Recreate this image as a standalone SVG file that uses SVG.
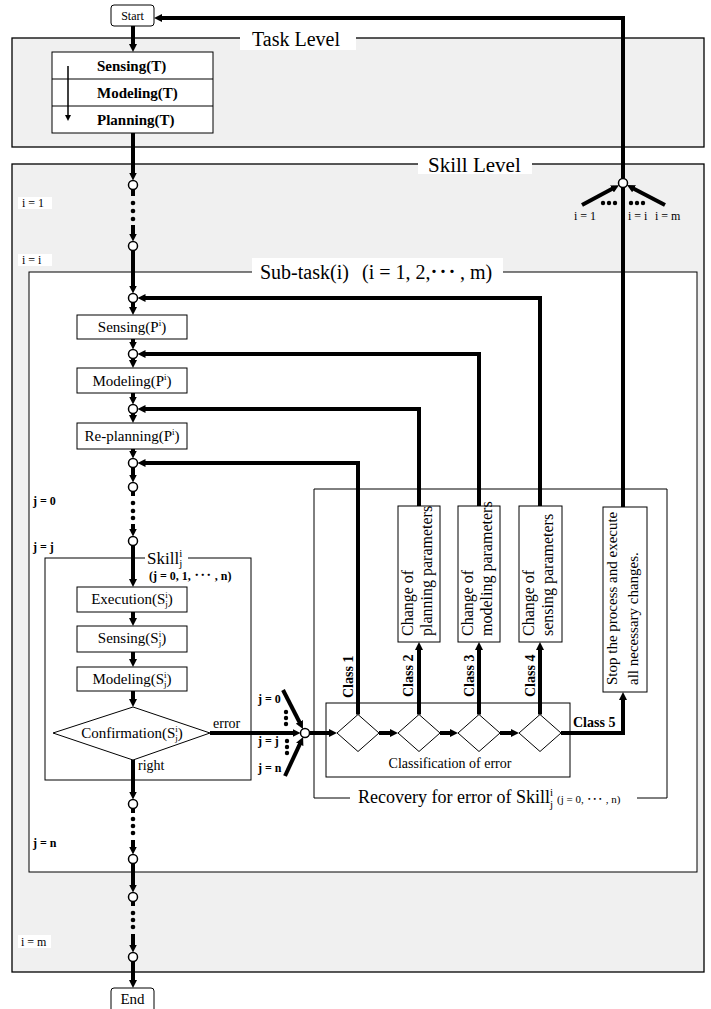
<svg xmlns="http://www.w3.org/2000/svg" width="711" height="1009" viewBox="0 0 711 1009">
<defs>
<marker id="ah" viewBox="0 0 8 8" refX="3" refY="4" markerWidth="8" markerHeight="8" markerUnits="userSpaceOnUse" orient="auto"><path d="M0,0 L8,4 L0,8 z" fill="#000"/></marker>
<marker id="ahs" viewBox="0 0 8 8" refX="4" refY="4" markerWidth="6" markerHeight="7" markerUnits="userSpaceOnUse" orient="auto"><path d="M0,0 L8,4 L0,8 z" fill="#000"/></marker>
</defs>
<style>
text{font-family:"Liberation Serif","Noto Sans CJK JP",serif;fill:#000}
.lvl{fill:#f0f0f0;stroke:#000;stroke-width:1.3}
.box{fill:#fff;stroke:#000;stroke-width:1}
.thin{fill:none;stroke:#000;stroke-width:1}
.flow{fill:none;stroke:#000;stroke-width:4}
.arr{marker-end:url(#ah)}
.node{fill:#fff;stroke:#000;stroke-width:1.5}
.dot{fill:#000}
.bg{fill:#fff}
.t15{font-size:15px}
.b15{font-size:15px;font-weight:bold}
.b14{font-size:14px;font-weight:bold}
.b12{font-size:12px;font-weight:bold}
.t12{font-size:12px}
.t16{font-size:16px}
.c{text-anchor:middle}
</style>

<g id="task-level">
<rect class="lvl" x="12" y="38" width="692" height="109"/>
<rect class="bg" x="240" y="32" width="116" height="18"/>
<text x="252" y="46" style="font-size:20px">Task Level</text>
</g>

<g id="skill-level">
<rect class="lvl" x="12" y="164" width="692" height="808"/>
<rect class="bg" x="418" y="156" width="114" height="18"/>
<text x="428" y="172" style="font-size:21px">Skill Level</text>
<rect class="bg" x="18" y="197" width="34" height="12"/>
<text class="t12" x="22" y="207">i = 1</text>
<rect class="bg" x="18" y="254" width="34" height="12"/>
<text class="t12" x="22" y="264">i = i</text>
<rect class="bg" x="18" y="935" width="33" height="13"/>
<text class="t12" x="21" y="946">i = m</text>
</g>

<g id="sub-task">
<rect class="box" x="29" y="272" width="668" height="600"/>
<rect class="bg" x="252" y="258" width="251" height="26"/>
<text x="260" y="279" style="font-size:20px">Sub-task(i)<tspan x="362">(i = 1, 2,</tspan><tspan x="429">･</tspan><tspan x="438">･</tspan><tspan x="447">･</tspan><tspan x="460">, m)</tspan></text>
<text class="b12" x="33" y="505">j = 0</text>
<text class="b12" x="33" y="551">j = j</text>
<text class="b12" x="33" y="847">j = n</text>
</g>

<g id="start">
<rect class="box" x="111" y="5" width="43" height="21" rx="3" stroke-width="1.3"/>
<text class="c" x="132.5" y="20" style="font-size:12px">Start</text>
</g>

<g id="task-table">
<rect class="box" x="52" y="52" width="161" height="81"/>
<line class="thin" x1="52" y1="79" x2="213" y2="79"/>
<line class="thin" x1="52" y1="106" x2="213" y2="106"/>
<text class="b15" x="97" y="71">Sensing(T)</text>
<text class="b15" x="97" y="98">Modeling(T)</text>
<text class="b15" x="97" y="125">Planning(T)</text>
<line x1="68" y1="66" x2="68" y2="118" stroke="#000" stroke-width="1.5" marker-end="url(#ahs)"/>
</g>

<g id="sensing-p">
<rect class="box" x="77" y="315" width="110" height="24"/>
<text class="t15 c" x="132" y="332">Sensing(P<tspan font-size="9" dy="-6">i</tspan><tspan dy="6">)</tspan></text>
</g>
<g id="modeling-p">
<rect class="box" x="77" y="368" width="110" height="25"/>
<text class="t15 c" x="132" y="386">Modeling(P<tspan font-size="9" dy="-6">i</tspan><tspan dy="6">)</tspan></text>
</g>
<g id="replanning-p">
<rect class="box" x="77" y="423" width="110" height="26"/>
<text class="t15 c" x="132" y="441">Re-planning(P<tspan font-size="9" dy="-6">i</tspan><tspan dy="6">)</tspan></text>
</g>

<g id="skill">
<rect class="box" x="45" y="558" width="206" height="222"/>
<rect class="bg" x="145" y="549" width="43" height="20"/>
<text x="147" y="564" style="font-size:17px">Skill<tspan font-size="11" dy="-7">i</tspan><tspan font-size="11" dx="-3" dy="10">j</tspan></text>
<text class="b12" x="149" y="580">(j = 0, 1, ･･･ , n)</text>
</g>
<g id="execution-s">
<rect class="box" x="77" y="587" width="110" height="25"/>
<text class="t15 c" x="132" y="604">Execution(S<tspan font-size="9" dy="-6">i</tspan><tspan font-size="9" dx="-2.5" dy="9">j</tspan><tspan dy="-3">)</tspan></text>
</g>
<g id="sensing-s">
<rect class="box" x="77" y="626" width="110" height="26"/>
<text class="t15 c" x="132" y="643">Sensing(S<tspan font-size="9" dy="-6">i</tspan><tspan font-size="9" dx="-2.5" dy="9">j</tspan><tspan dy="-3">)</tspan></text>
</g>
<g id="modeling-s">
<rect class="box" x="77" y="667" width="110" height="24"/>
<text class="t15 c" x="132" y="684">Modeling(S<tspan font-size="9" dy="-6">i</tspan><tspan font-size="9" dx="-2.5" dy="9">j</tspan><tspan dy="-3">)</tspan></text>
</g>
<g id="confirmation">
<polygon class="box" points="133,707 210,733 133,760 53,733"/>
<text class="t15 c" x="132" y="738">Confirmation(S<tspan font-size="9" dy="-6">i</tspan><tspan font-size="9" dx="-2.5" dy="9">j</tspan><tspan dy="-3">)</tspan></text>
<text x="213" y="728" style="font-size:14px">error</text>
<text x="138" y="770" style="font-size:14px">right</text>
</g>

<g id="recovery">
<path class="thin" d="M350,798 H314 V489 H667 V798 H637"/>
<text x="358" y="803" style="font-size:18px">Recovery for error of Skill<tspan font-size="11" dy="-7">i</tspan><tspan font-size="11" dx="-3" dy="12">j</tspan><tspan font-size="11" dx="4" dy="-5">(j = 0, ･･･ , n)</tspan></text>
</g>

<g id="change-planning">
<rect class="box" x="398" y="506" width="42" height="136"/>
<text class="t16" transform="translate(413,636) rotate(-90)">Change of</text>
<text class="t16" transform="translate(432,636) rotate(-90)">planning parameters</text>
</g>
<g id="change-modeling">
<rect class="box" x="458" y="506" width="42" height="136"/>
<text class="t16" transform="translate(473,636) rotate(-90)">Change of</text>
<text class="t16" transform="translate(492,636) rotate(-90)">modeling parameters</text>
</g>
<g id="change-sensing">
<rect class="box" x="519" y="506" width="43" height="136"/>
<text class="t16" transform="translate(534,636) rotate(-90)">Change of</text>
<text class="t16" transform="translate(553,636) rotate(-90)">sensing parameters</text>
</g>
<g id="stop">
<rect class="box" x="603" y="507" width="44" height="185"/>
<text transform="translate(617,685) rotate(-90)" style="font-size:15px">Stop the process and execute</text>
<text transform="translate(638,685) rotate(-90)" style="font-size:15px">all necessary changes.</text>
</g>

<g id="classification">
<rect class="box" x="326" y="703" width="244" height="74"/>
<text class="c" x="450" y="768" style="font-size:14px">Classification of error</text>
<polygon class="box" points="358,714.5 379,733 358,751.5 337,733"/>
<polygon class="box" points="419,714.5 440,733 419,751.5 398,733"/>
<polygon class="box" points="479,714.5 500,733 479,751.5 458,733"/>
<polygon class="box" points="540,714.5 561,733 540,751.5 519,733"/>
<text class="b14" transform="translate(353,698) rotate(-90)">Class 1</text>
<text class="b14" transform="translate(413,697) rotate(-90)">Class 2</text>
<text class="b14" transform="translate(474,697) rotate(-90)">Class 3</text>
<text class="b14" transform="translate(535,697) rotate(-90)">Class 4</text>
<text class="b14" x="573" y="727">Class 5</text>
</g>

<g id="end">
<rect class="box" x="111" y="988" width="43" height="26" rx="3" stroke-width="1.3"/>
<text class="c" x="132.5" y="1004" style="font-size:15px">End</text>
</g>

<g id="connectors">
<path class="flow arr" d="M133,26 V47"/>
<path class="flow arr" d="M133,133 V175.5"/>
<path class="flow" d="M133,189.5 V196"/>
<path class="flow arr" d="M133,225 V236.5"/>
<path class="flow arr" d="M133,250.5 V288.5"/>
<path class="flow arr" d="M133,302.5 V310"/>
<path class="flow arr" d="M133,339 V344.5"/>
<path class="flow arr" d="M133,358.5 V363"/>
<path class="flow arr" d="M133,393 V399.5"/>
<path class="flow arr" d="M133,413.5 V418"/>
<path class="flow arr" d="M133,449 V453.5"/>
<path class="flow arr" d="M133,467.5 V477.5"/>
<path class="flow" d="M133,491.5 V496"/>
<path class="flow arr" d="M133,524 V531.5"/>
<path class="flow arr" d="M133,545.5 V582"/>
<path class="flow arr" d="M133,612 V621"/>
<path class="flow arr" d="M133,652 V662"/>
<path class="flow arr" d="M133,691 V702"/>
<path class="flow arr" d="M133,760 V794.5"/>
<path class="flow" d="M133,808.5 V813"/>
<path class="flow arr" d="M133,840 V849.5"/>
<path class="flow arr" d="M133,863.5 V887.5"/>
<path class="flow" d="M133,901.5 V906"/>
<path class="flow arr" d="M133,934 V947.5"/>
<path class="flow arr" d="M133,961.5 V983"/>

<path class="flow arr" d="M540,506 V298 H142.5"/>
<path class="flow arr" d="M479,506 V354 H142.5"/>
<path class="flow arr" d="M419,506 V409 H142.5"/>
<path class="flow arr" d="M358,714.5 V463 H142.5"/>
<path class="flow arr" d="M419,714.5 V647"/>
<path class="flow arr" d="M479,714.5 V647"/>
<path class="flow arr" d="M540,714.5 V647"/>

<path class="flow arr" d="M210,733 H295.5"/>
<path class="flow arr" d="M283,690 L300.7,724.5"/>
<path class="flow arr" d="M285,776 L301,741.6"/>
<path class="flow arr" d="M309.5,733 H332"/>
<path class="flow arr" d="M379,733 H393"/>
<path class="flow arr" d="M440,733 H453"/>
<path class="flow arr" d="M500,733 H514"/>
<path class="flow arr" d="M561,733 H623 V697"/>

<path class="flow arr" d="M623,507 V18 H159"/>
<path class="flow arr" d="M582,205 L614.6,187.5"/>
<path class="flow arr" d="M665,205 L631.4,187.4"/>

<g class="dot">
<circle cx="133" cy="203" r="2.3"/><circle cx="133" cy="211" r="2.3"/><circle cx="133" cy="219" r="2.3"/>
<circle cx="133" cy="503" r="2.3"/><circle cx="133" cy="511" r="2.3"/><circle cx="133" cy="518" r="2.3"/>
<circle cx="133" cy="819" r="2.3"/><circle cx="133" cy="826" r="2.3"/><circle cx="133" cy="833" r="2.3"/>
<circle cx="133" cy="913" r="2.3"/><circle cx="133" cy="920" r="2.3"/><circle cx="133" cy="927" r="2.3"/>
<circle cx="286" cy="712" r="2.2"/><circle cx="286" cy="718" r="2.2"/><circle cx="286" cy="724" r="2.2"/>
<circle cx="287" cy="741" r="2.2"/><circle cx="287" cy="747" r="2.2"/><circle cx="287" cy="753" r="2.2"/>
<circle cx="603" cy="203" r="2.2"/><circle cx="609" cy="203" r="2.2"/><circle cx="615" cy="203" r="2.2"/>
<circle cx="631" cy="203" r="2.2"/><circle cx="637" cy="203" r="2.2"/><circle cx="643" cy="203" r="2.2"/>
</g>
<g class="node">
<circle cx="133" cy="185" r="4.5"/><circle cx="133" cy="246" r="4.5"/><circle cx="133" cy="298" r="4.5"/>
<circle cx="133" cy="354" r="4.5"/><circle cx="133" cy="409" r="4.5"/><circle cx="133" cy="463" r="4.5"/>
<circle cx="133" cy="487" r="4.5"/><circle cx="133" cy="541" r="4.5"/><circle cx="133" cy="804" r="4.5"/>
<circle cx="133" cy="859" r="4.5"/><circle cx="133" cy="897" r="4.5"/><circle cx="133" cy="957" r="4.5"/>
<circle cx="305" cy="733" r="4.5"/><circle cx="623" cy="183" r="4.5"/>
</g>
<text class="t12" x="574" y="220">i = 1</text>
<text class="t12" x="628" y="220">i = i</text>
<text class="t12" x="655" y="220">i = m</text>
<text class="b12" x="258" y="703">j = 0</text>
<text class="b12" x="258" y="745">j = j</text>
<text class="b12" x="258" y="772">j = n</text>
</g>
</svg>
